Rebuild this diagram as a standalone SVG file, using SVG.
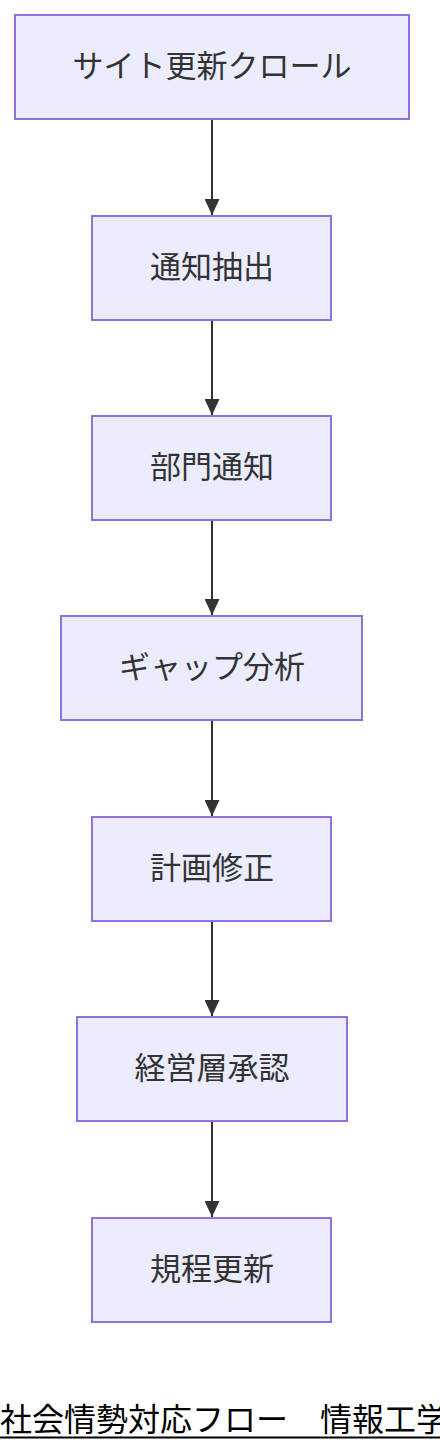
<svg xmlns="http://www.w3.org/2000/svg" width="440" height="1452" viewBox="0 0 440 1452">
<defs>
<style>
.node rect{fill:#ECECFF;stroke:#9370DB;stroke-width:2}
.node text{font-family:"Noto Sans CJK JP","Noto Sans",sans-serif;font-size:31px;fill:#333;text-anchor:middle}
.edge{stroke:#333;stroke-width:2;fill:none}
.title{font-family:"Noto Sans CJK JP","Noto Sans",sans-serif;font-size:32px;fill:#000}
</style>
<marker id="arrow" viewBox="0 0 16 15" refX="16" refY="7.5" markerWidth="16" markerHeight="15" markerUnits="userSpaceOnUse" orient="auto">
<path d="M0,0 L16,7.5 L0,15 z" fill="#333"/>
</marker>
</defs>
<rect width="440" height="1452" fill="#fff"/>
<g id="connectors">
<line class="edge" x1="212" y1="120" x2="212" y2="215" marker-end="url(#arrow)"/>
<line class="edge" x1="212" y1="321" x2="212" y2="415" marker-end="url(#arrow)"/>
<line class="edge" x1="212" y1="521" x2="212" y2="615" marker-end="url(#arrow)"/>
<line class="edge" x1="212" y1="721" x2="212" y2="816" marker-end="url(#arrow)"/>
<line class="edge" x1="212" y1="922" x2="212" y2="1016" marker-end="url(#arrow)"/>
<line class="edge" x1="212" y1="1122" x2="212" y2="1217" marker-end="url(#arrow)"/>
</g>
<g id="n1" class="node"><rect x="15" y="15" width="394" height="104"/><text x="212" y="77">サイト更新クロール</text></g>
<g id="n2" class="node"><rect x="92" y="216" width="239" height="104"/><text x="212" y="278">通知抽出</text></g>
<g id="n3" class="node"><rect x="92" y="416" width="239" height="104"/><text x="212" y="478">部門通知</text></g>
<g id="n4" class="node"><rect x="61" y="616" width="301" height="104"/><text x="212" y="678">ギャップ分析</text></g>
<g id="n5" class="node"><rect x="92" y="817" width="239" height="104"/><text x="212" y="879">計画修正</text></g>
<g id="n6" class="node"><rect x="77" y="1017" width="270" height="104"/><text x="212" y="1079">経営層承認</text></g>
<g id="n7" class="node"><rect x="92" y="1218" width="239" height="104"/><text x="212" y="1280">規程更新</text></g>
<g id="title">
<text class="title" x="0" y="1431">社会情勢対応フロー　情報工学</text>
<line x1="0" y1="1437.5" x2="440" y2="1437.5" stroke="#000" stroke-width="2"/>
</g>
</svg>
